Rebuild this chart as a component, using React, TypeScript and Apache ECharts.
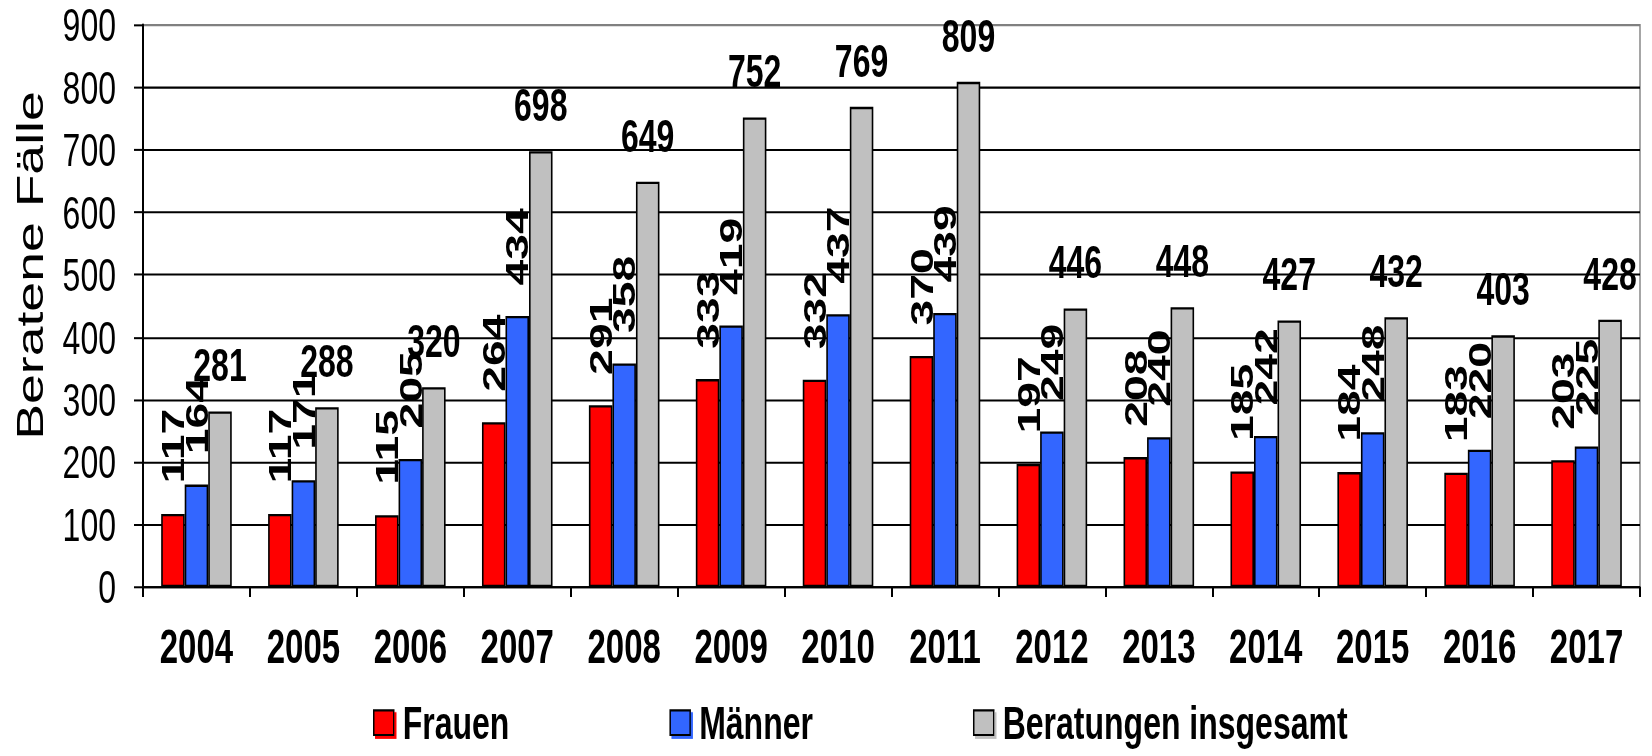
import React, { useEffect, useRef } from "react";
import * as echarts from "echarts";

const years = ["2004", "2005", "2006", "2007", "2008", "2009", "2010", "2011", "2012", "2013", "2014", "2015", "2016", "2017"];
const frauen = [117, 117, 115, 264, 291, 333, 332, 370, 197, 208, 185, 184, 183, 203];
const maenner = [164, 171, 205, 434, 358, 419, 437, 439, 249, 240, 242, 248, 220, 225];
const gesamt = [281, 288, 320, 698, 649, 752, 769, 809, 446, 448, 427, 432, 403, 428];
const seriesNames = ["Frauen", "Männer", "Beratungen insgesamt"];
const seriesColors = ["#FF0000", "#3366FF", "#C0C0C0"];
const yAxisTitle = "Beratene Fälle";

const FONT = "'Liberation Sans', Arial, Helvetica, sans-serif";
const INNER_H = 522;
const SCALE_Y = 756 / INNER_H;

export default function App() {
  const ref = useRef<HTMLDivElement>(null);

  useEffect(() => {
    if (!ref.current) return;
    const chart = echarts.init(ref.current, null, { renderer: "svg" });

    const rotLabel = {
      show: true,
      position: "top",
      rotate: 90,
      align: "left",
      verticalAlign: "middle",
      distance: 21,
      color: "#000",
      fontWeight: "bold",
      fontSize: 32,
      fontFamily: FONT,
    };

    const barBase = (i: number) => ({
      name: seriesNames[i],
      type: "bar",
      barGap: "0%",
      barCategoryGap: "34%",
      itemStyle: { color: seriesColors[i], borderColor: "#000", borderWidth: 1.6 },
      emphasis: { disabled: true },
    });

    const gridLineColors = ["#000", "#000", "#000", "#000", "#000", "#000", "#000", "#000", "#000", "#808080"];

    chart.setOption({
      animation: false,
      backgroundColor: "#fff",
      grid: {
        left: 143,
        right: 12,
        top: 17.3,
        bottom: 116.7,
        show: true,
        borderColor: "#808080",
        borderWidth: 1.4,
        containLabel: false,
        outerBoundsMode: "none",
      },
      legend: {
        left: 373,
        top: 483,
        padding: 0,
        itemWidth: 20,
        itemHeight: 17,
        itemGap: 160,
        icon: "rect",
        textStyle: {
          fontSize: 32,
          fontWeight: "bold",
          color: "#000",
          fontFamily: FONT,
          padding: [0, 0, 0, 4],
        },
        data: seriesNames.map((n, i) => ({
          name: n,
          itemStyle: {
            color: seriesColors[i],
            borderColor: "#000",
            borderWidth: 1.5,
            shadowColor: seriesColors[i],
            shadowOffsetX: 2,
            shadowOffsetY: 2,
            shadowBlur: 0,
          },
        })),
      },
      xAxis: {
        type: "category",
        data: years,
        boundaryGap: true,
        axisLine: { show: true, lineStyle: { color: "#000", width: 1.4 } },
        axisTick: { show: true, length: 7, alignWithLabel: false, lineStyle: { color: "#000", width: 2 } },
        axisLabel: {
          margin: 25,
          color: "#000",
          fontWeight: "bold",
          fontSize: 33,
          fontFamily: FONT,
        },
        splitLine: { show: false },
      },
      yAxis: {
        type: "value",
        min: 0,
        max: 900,
        interval: 100,
        name: yAxisTitle,
        nameLocation: "middle",
        nameGap: 94,
        nameMoveOverlap: false,
        nameTextStyle: {
          fontSize: 37,
          color: "#000",
          fontFamily: FONT,
          padding: [0, 0, 0, 56],
        },
        axisLine: { show: true, lineStyle: { color: "#000", width: 2 } },
        axisTick: { show: true, length: 9, lineStyle: { color: "#000", width: 1.4 } },
        axisLabel: {
          margin: 27,
          color: "#000",
          fontSize: 32,
          fontFamily: FONT,
        },
        splitLine: { show: true, lineStyle: { color: gridLineColors, width: 1.4 } },
      },
      series: [
        { ...barBase(0), data: frauen, label: rotLabel },
        { ...barBase(1), data: maenner, label: rotLabel },
        {
          ...barBase(2),
          data: gesamt,
          label: {
            show: true,
            position: "top",
            distance: 16,
            color: "#000",
            fontWeight: "bold",
            fontSize: 32,
            fontFamily: FONT,
          },
        },
      ],
    });

    return () => chart.dispose();
  }, []);

  return (
    <div
      style={{
        position: "absolute",
        left: 0,
        top: 0,
        width: 1652,
        height: 756,
        overflow: "hidden",
        background: "#fff",
      }}
    >
      <div
        ref={ref}
        style={{
          width: 1652,
          height: INNER_H,
          transform: `scaleY(${SCALE_Y})`,
          transformOrigin: "0 0",
        }}
      />
    </div>
  );
}
